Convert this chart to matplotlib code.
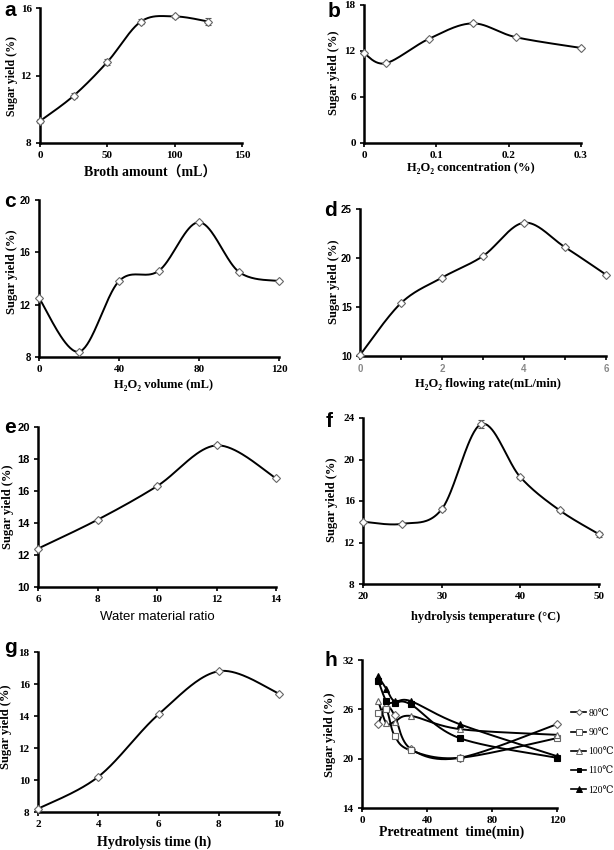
import numpy as np
import matplotlib
matplotlib.use("Agg")
from matplotlib import pyplot as plt
from matplotlib.lines import Line2D

SERIF = ['Liberation Serif', 'DejaVu Serif', 'Noto Sans CJK SC']
SANS = ['Liberation Sans', 'DejaVu Sans']

# a - broth amount
broth_x = [0, 25, 50, 75, 100, 125]
broth_y = [9.3, 10.8, 12.8, 15.2, 15.5, 15.2]
broth_err = [0.1, 0.15, 0.2, 0.15, 0.1, 0.2]

# b - H2O2 concentration
conc_x = [0, 0.03, 0.09, 0.15, 0.21, 0.3]
conc_y = [11.7, 10.4, 13.6, 15.6, 13.8, 12.4]

# c - H2O2 volume
vol_x = [0, 20, 40, 60, 80, 100, 120]
vol_y = [12.5, 8.4, 13.8, 14.6, 18.3, 14.5, 13.8]

# d - H2O2 flowing rate
rate_x = [0, 1, 2, 3, 4, 5, 6]
rate_y = [10.1, 15.4, 18.0, 20.2, 23.6, 21.1, 18.3]

# e - water material ratio
ratio_x = [6, 8, 10, 12, 14]
ratio_y = [12.4, 14.2, 16.3, 18.85, 16.8]

# f - hydrolysis temperature
temp_x = [20, 25, 30, 35, 40, 45, 50]
temp_y = [14.0, 13.8, 15.2, 23.4, 18.3, 15.1, 12.8]
temp_err = [0.1, 0.1, 0.2, 0.4, 0.15, 0.15, 0.25]

# g - hydrolysis time
time_x = [2, 4, 6, 8, 10]
time_y = [8.2, 10.2, 14.1, 16.8, 15.4]

# h - pretreatment time at several temperatures
pre_x = [10, 15, 20, 30, 60, 120]
pre_labels = ['80℃', '90℃', '100℃', '110℃', '120℃']
pre_y = [
    [24.2, 26.3, 25.3, 21.2, 20.1, 24.2],
    [25.5, 26.0, 22.8, 21.0, 20.1, 22.5],
    [27.0, 24.3, 24.5, 25.2, 23.6, 22.9],
    [29.5, 27.0, 26.8, 26.6, 22.5, 20.1],
    [30.0, 28.5, 27.0, 27.0, 24.2, 20.3],
]

W, H = 614, 850
fig = plt.figure(figsize=(W / 100, H / 100), dpi=100)


def box(l, t, r, b):
    return fig.add_axes([l / W, 1 - b / H, (r - l) / W, (b - t) / H])


def smooth(x, y, n=40):
    # excel style smoothed line (catmull-rom as bezier)
    p = np.column_stack([x, y]).astype(float)
    p = np.vstack([p[0], p, p[-1]])
    t = np.linspace(0, 1, n)[:, None]
    out = []
    for i in range(1, len(p) - 2):
        p0, p1, p2, p3 = p[i - 1], p[i], p[i + 1], p[i + 2]
        b1 = p1 + (p2 - p0) / 6
        b2 = p2 - (p3 - p1) / 6
        out.append((1 - t) ** 3 * p1 + 3 * (1 - t) ** 2 * t * b1
                   + 3 * (1 - t) * t ** 2 * b2 + t ** 3 * p2)
    s = np.vstack(out)
    return s[:, 0], s[:, 1]


def frame(ax, xt, yt, xfont=(SERIF, 'bold', 8, 'black'), yfont=(SERIF, 'bold', 8, 'black')):
    ax.set_xlim(xt[0], xt[-1])
    ax.set_ylim(yt[0], yt[-1])
    ax.set_xticks(xt)
    ax.set_yticks(yt)
    ax.set_xticklabels(['%g' % v for v in xt])
    ax.set_yticklabels(['%g' % v for v in yt])
    for s in ['top', 'right']:
        ax.spines[s].set_visible(False)
    for s in ['left', 'bottom']:
        ax.spines[s].set_linewidth(1.8)
    ax.tick_params(direction='out', length=3, width=1.2, pad=3)
    ax.patch.set_alpha(0)
    for labs, f in [(ax.get_xticklabels(), xfont), (ax.get_yticklabels(), yfont)]:
        for lab in labs:
            lab.set_fontfamily(f[0])
            lab.set_fontweight(f[1])
            lab.set_fontsize(f[2])
            lab.set_color(f[3])
    for lab in ax.get_xticklabels() + ax.get_yticklabels():
        lab.set_clip_on(False)


def curve(ax, x, y, err=None):
    sx, sy = smooth(x, y)
    ax.plot(sx, sy, color='black', lw=1.4, clip_on=False, zorder=2)
    if err is not None:
        ax.errorbar(x, y, yerr=err, fmt='none', ecolor='#555555', elinewidth=0.8,
                    capsize=2, capthick=0.8, zorder=3, clip_on=False)
    ax.plot(x, y, 'D', ms=4, mfc='white', mec='#666666', mew=0.8, zorder=4, clip_on=False)


def text(x, y, s, **kw):
    fig.text(x / W, 1 - y / H, s, **kw)


def ylab(x, y, size=8.5):
    text(x, y, 'Sugar yield (%)', rotation=90, ha='center', va='center',
         family=SERIF, weight='bold', fontsize=size)


def letter(x, y, s):
    text(x, y, s, ha='left', va='baseline', family=SANS, weight='bold', fontsize=15)


sans_b = (SANS, 'bold', 8, 'black')

# a
ax = box(40, 8, 242, 143)
curve(ax, broth_x, broth_y, broth_err)
frame(ax, [0, 50, 100, 150], [8, 12, 16])
letter(4, 16, 'a')
ylab(12, 76)
text(150, 173, 'Broth amount（mL）', ha='center', va='center', family=SERIF,
     weight='bold', fontsize=10)

# b
ax = box(364, 5, 581, 143)
curve(ax, conc_x, conc_y)
frame(ax, [0, 0.1, 0.2, 0.3], [0, 6, 12, 18])
letter(328, 17, 'b')
ylab(334, 73, 9)
text(471, 168, 'H₂O₂ concentration (%)', ha='center', va='center', family=SERIF,
     weight='bold', fontsize=9)

# c
ax = box(39, 200, 279, 357)
curve(ax, vol_x, vol_y)
frame(ax, [0, 40, 80, 120], [8, 12, 16, 20], yfont=(SANS, 'bold', 7, 'black'))
letter(4, 207, 'c')
ylab(12, 272, 9)
text(164, 385, 'H₂O₂ volume (mL)', ha='center', va='center', family=SERIF,
     weight='bold', fontsize=9)

# d
ax = box(360, 209, 606, 356)
curve(ax, rate_x, rate_y)
frame(ax, [0, 2, 4, 6], [10, 15, 20, 25], yfont=(SANS, 'bold', 7, 'black'))
ax.set_xticks([0, 1, 2, 3, 4, 5, 6])
ax.set_xticklabels(['0', '', '2', '', '4', '', '6'])
for lab in ax.get_xticklabels():
    lab.set_fontfamily(SANS)
    lab.set_fontsize(7)
    lab.set_color('#888888')
letter(324, 216, 'd')
ylab(334, 282, 9)
text(488, 384, 'H₂O₂ flowing rate(mL/min)', ha='center', va='center', family=SERIF,
     weight='bold', fontsize=9)

# e
ax = box(38, 427, 276, 587)
curve(ax, ratio_x, ratio_y)
frame(ax, [6, 8, 10, 12, 14], [10, 12, 14, 16, 18, 20], yfont=sans_b)
letter(4, 433, 'e')
ylab(8, 507, 9)
text(157, 617, 'Water material ratio', ha='center', va='center', family=SANS,
     fontsize=9.5)

# f
ax = box(363, 418, 599, 584)
curve(ax, temp_x, temp_y, temp_err)
frame(ax, [20, 30, 40, 50], [8, 12, 16, 20, 24])
letter(326, 427, 'f')
ylab(332, 500, 9)
text(486, 617, 'hydrolysis temperature (°C)', ha='center', va='center', family=SERIF,
     weight='bold', fontsize=9)

# g
ax = box(38, 652, 279, 812)
curve(ax, time_x, time_y)
frame(ax, [2, 4, 6, 8, 10], [8, 10, 12, 14, 16, 18])
letter(4, 653, 'g')
ylab(6, 727, 9)
text(154, 842, 'Hydrolysis time (h)', ha='center', va='center', family=SERIF,
     weight='bold', fontsize=10)

# h
ax = box(362, 660, 557, 808)
styles = [('D', 'white', 4), ('s', 'white', 5), ('^', 'white', 5),
          ('s', 'black', 4), ('^', 'black', 5)]
handles = []
for ys, lab, (m, fc, ms) in zip(pre_y, pre_labels, styles):
    sx, sy = smooth(pre_x, ys)
    ax.plot(sx, sy, color='black', lw=1.4, clip_on=False, zorder=2)
    mec = '#666666' if fc == 'white' else 'black'
    ax.plot(pre_x, ys, m, ms=ms, mfc=fc, mec=mec, mew=0.8, zorder=4, clip_on=False)
    handles.append(Line2D([], [], color='black', lw=1.2, marker=m, ms=ms - 1,
                          mfc=fc, mec=mec, mew=0.7, label=lab))
frame(ax, [0, 40, 80, 120], [14, 20, 26, 32])
letter(325, 666, 'h')
ylab(330, 735, 9)
text(452, 832, 'Pretreatment  time(min)', ha='center', va='center', family=SERIF,
     weight='bold', fontsize=10)
fig.legend(handles=handles, loc='upper left', bbox_to_anchor=(566 / W, 1 - 704 / H),
           frameon=False, handlelength=1.6, handletextpad=0.2, labelspacing=1.05,
           borderpad=0, prop={'family': SERIF, 'size': 7})

fig.savefig('out.png', dpi=100)
